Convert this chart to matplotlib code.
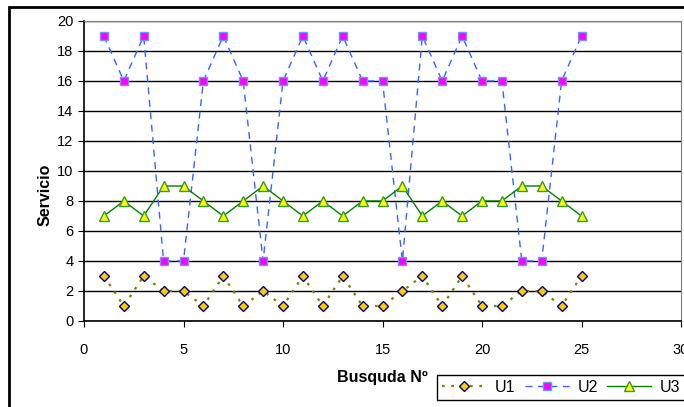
import matplotlib.pyplot as plt
from matplotlib.patches import Rectangle

plt.rcParams['font.family'] = ['Liberation Sans', 'DejaVu Sans']

busqueda = list(range(1, 26))
u1 = [3, 1, 3, 2, 2, 1, 3, 1, 2, 1, 3, 1, 3, 1, 1, 2, 3, 1, 3, 1, 1, 2, 2, 1, 3]
u2 = [19, 16, 19, 4, 4, 16, 19, 16, 4, 16, 19, 16, 19, 16, 16, 4, 19, 16, 19, 16, 16, 4, 4, 16, 19]
u3 = [7, 8, 7, 9, 9, 8, 7, 8, 9, 8, 7, 8, 7, 8, 8, 9, 7, 8, 7, 8, 8, 9, 9, 8, 7]

W, H = 684, 407
fig = plt.figure(figsize=(W / 100, H / 100), dpi=100)

# outer chart frame (cut off at right and bottom like the original)
fig.patches.append(Rectangle((8.5 / W, -0.1), 1.2, 1 - 7.5 / H + 0.1,
                             transform=fig.transFigure, fill=False,
                             edgecolor='black', linewidth=2))

ax = fig.add_axes([84 / W, 1 - 321 / H, (681 - 84) / W, (321 - 21) / H])

ax.plot(busqueda, u1, linestyle=(0, (1.2, 3)), color='#808000', linewidth=1.6,
        marker='D', markersize=5, markerfacecolor='#FFCC00',
        markeredgecolor='#000080', markeredgewidth=1, label='U1')
ax.plot(busqueda, u2, linestyle=(0, (5, 4)), color='#3366FF', linewidth=1,
        marker='s', markersize=6, markerfacecolor='#FF00FF',
        markeredgecolor='#6699FF', markeredgewidth=1, label='U2')
ax.plot(busqueda, u3, linestyle='-', color='#008000', linewidth=1,
        marker='^', markersize=7, markerfacecolor='#FFFF00',
        markeredgecolor='#339933', markeredgewidth=1, label='U3')

ax.set_xlim(0, 30)
ax.set_ylim(0, 20)
ax.set_xticks(range(0, 31, 5))
ax.set_yticks(range(0, 21, 2))
ax.yaxis.grid(True, color='black', linewidth=1)
ax.set_axisbelow(True)
for side in ['top', 'right']:
    ax.spines[side].set_color('#808080')
for side in ['left', 'bottom']:
    ax.spines[side].set_color('black')
    ax.spines[side].set_linewidth(1.2)
ax.tick_params(direction='out', length=4, labelsize=10.5, colors='black')
ax.tick_params(axis='x', pad=12)

ax.set_xlabel('Busquda Nº', fontsize=11.5, fontweight='bold')
ax.xaxis.set_label_coords(0.5, -0.163)
ax.set_ylabel('Servicio', fontsize=11.5, fontweight='bold')
ax.yaxis.set_label_coords(-0.052, 0.42)

# legend runs off the right edge, as in the original
fig.legend(loc='upper left', bbox_to_anchor=(437 / W, 1 - 375 / H),
           ncol=3, fontsize=11.5, frameon=True, fancybox=False,
           edgecolor='black', framealpha=1, handlelength=2.75,
           columnspacing=0.6, handletextpad=0.55, borderpad=0.3,
           borderaxespad=0)

fig.savefig('out.png', dpi=100)
